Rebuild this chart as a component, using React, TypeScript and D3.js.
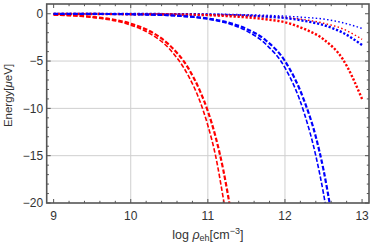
import React from 'react';
import * as d3 from 'd3';

// x grids (log rho_eh) and energies, in μeV
const xRedDashed = [9, 9.5, 10, 10.25, 10.5, 10.75, 10.9, 11, 11.1, 11.2, 11.3, 11.4];
const redDashedA = [-0.12, -0.38, -1.2, -2.1, -3.7, -6.6, -9.3, -11.8, -15, -19.5, -24.5, -31];
const redDashedB = [-0.1, -0.33, -1.05, -1.85, -3.3, -5.8, -8.2, -10.3, -13, -16.5, -21, -26];

const xBlueDashed = [9, 9.5, 10, 10.5, 11, 11.25, 11.5, 11.75, 12, 12.25, 12.4, 12.5, 12.6, 12.7];
const blueDashedA = [-0.01, -0.02, -0.06, -0.18, -0.57, -1.0, -1.8, -3.2, -5.7, -10.5, -15, -19, -24, -30];
const blueDashedB = [-0.01, -0.02, -0.05, -0.16, -0.5, -0.9, -1.6, -2.8, -5.0, -9.2, -13, -16.5, -21, -26];

const xDotted = [9, 9.5, 10, 10.5, 11, 11.25, 11.5, 11.75, 12, 12.25, 12.5, 12.75, 13];
const redDottedThick = [-0.02, -0.03, -0.05, -0.08, -0.15, -0.25, -0.38, -0.58, -0.9, -1.6, -2.7, -4.8, -9.0];
const blueDottedThick = [-0.01, -0.01, -0.02, -0.04, -0.08, -0.13, -0.2, -0.3, -0.45, -0.75, -1.2, -2.0, -3.3];
const redDottedThin = [-0.01, -0.01, -0.02, -0.04, -0.08, -0.12, -0.18, -0.27, -0.4, -0.62, -1.0, -1.6, -2.7];
const blueDottedThin = [0, -0.01, -0.01, -0.02, -0.04, -0.06, -0.1, -0.16, -0.25, -0.38, -0.56, -0.95, -1.55];

const xTicks = [9, 10, 11, 12, 13];
const yTicks = [0, -5, -10, -15, -20];

const frameColor = '#555';
const textColor = '#333';
const font = '"Liberation Sans", Arial, sans-serif';

class Chart extends React.Component {
  node: SVGSVGElement | null = null;
  width = 374;
  height = 247;
  margin = { top: 4, right: 5, bottom: 44, left: 46.7 };

  componentDidMount() {
    this.drawChart();
  }

  drawChart() {
    const { width, height, margin } = this;
    const svg = d3.select(this.node);
    svg.selectAll('*').remove();

    const x = d3.scaleLinear().domain([8.91, 13.09]).range([margin.left, width - margin.right]);
    const y = d3.scaleLinear().domain([-20, 1.03]).range([height - margin.bottom, margin.top]);
    const [x0, x1] = x.range();
    const [y0, y1] = y.range();

    svg.append('defs').append('clipPath').attr('id', 'plot-clip')
      .append('rect')
      .attr('x', x0).attr('y', y1)
      .attr('width', x1 - x0).attr('height', y0 - y1);

    // grid
    const grid = svg.append('g').attr('stroke', '#cfcfcf').attr('stroke-width', 1);
    grid.selectAll('line.gx').data([10, 11, 12]).enter().append('line')
      .attr('x1', d => x(d)).attr('x2', d => x(d)).attr('y1', y1).attr('y2', y0);
    grid.selectAll('line.gy').data([-5, -10, -15]).enter().append('line')
      .attr('y1', d => y(d)).attr('y2', d => y(d)).attr('x1', x0).attr('x2', x1);

    // curves
    const line = d3.line<[number, number]>()
      .x(d => x(d[0])).y(d => y(d[1]))
      .curve(d3.curveMonotoneX);

    const series = [
      { xs: xDotted, ys: blueDottedThin, color: '#0000ff', w: 1.4, dash: '1.5,2.3' },
      { xs: xDotted, ys: redDottedThin, color: '#ff0000', w: 1.4, dash: '1.5,2.3' },
      { xs: xDotted, ys: blueDottedThick, color: '#0000ff', w: 2.4, dash: '2.2,1.8' },
      { xs: xDotted, ys: redDottedThick, color: '#ff0000', w: 2.4, dash: '2.2,1.8' },
      { xs: xRedDashed, ys: redDashedA, color: '#ff0000', w: 1.6, dash: '4.5,2' },
      { xs: xRedDashed, ys: redDashedB, color: '#ff0000', w: 2.2, dash: '4.5,2' },
      { xs: xBlueDashed, ys: blueDashedA, color: '#0000ff', w: 1.6, dash: '4.5,2' },
      { xs: xBlueDashed, ys: blueDashedB, color: '#0000ff', w: 2.2, dash: '4.5,2' },
    ];

    const curves = svg.append('g').attr('clip-path', 'url(#plot-clip)');
    series.forEach(s => {
      curves.append('path')
        .datum(s.xs.map((v, i) => [v, s.ys[i]] as [number, number]))
        .attr('d', line)
        .attr('fill', 'none')
        .attr('stroke', s.color)
        .attr('stroke-width', s.w)
        .attr('stroke-dasharray', s.dash);
    });

    // ticks on all four sides, pointing in
    const xMinor = d3.range(9, 13.01, 0.2).filter(v => Math.abs(v - Math.round(v)) > 0.01);
    const yMinor = d3.range(-20, 1, 1).filter(v => v % 5 !== 0);
    const ticks = svg.append('g').attr('stroke', frameColor).attr('stroke-width', 1);
    const tick = (data: number[], len: number) => {
      data.forEach(v => {
        ticks.append('line').attr('x1', x(v)).attr('x2', x(v)).attr('y1', y0).attr('y2', y0 - len);
        ticks.append('line').attr('x1', x(v)).attr('x2', x(v)).attr('y1', y1).attr('y2', y1 + len);
      });
    };
    const ytick = (data: number[], len: number) => {
      data.forEach(v => {
        ticks.append('line').attr('y1', y(v)).attr('y2', y(v)).attr('x1', x0).attr('x2', x0 + len);
        ticks.append('line').attr('y1', y(v)).attr('y2', y(v)).attr('x1', x1).attr('x2', x1 - len);
      });
    };
    tick(xTicks, 4);
    tick(xMinor, 2.2);
    ytick(yTicks, 4);
    ytick(yMinor, 2.2);

    // frame
    svg.append('rect')
      .attr('x', x0).attr('y', y1)
      .attr('width', x1 - x0).attr('height', y0 - y1)
      .attr('fill', 'none')
      .attr('stroke', frameColor)
      .attr('stroke-width', 1.6);

    // tick labels
    svg.append('g').selectAll('text').data(xTicks).enter().append('text')
      .attr('x', d => x(d)).attr('y', y0 + 17)
      .attr('text-anchor', 'middle')
      .attr('font-family', font).attr('font-size', 12).attr('fill', textColor)
      .text(d => d3.format('d')(d));

    svg.append('g').selectAll('text').data(yTicks).enter().append('text')
      .attr('x', x0 - 3.5).attr('y', d => y(d) + 4.3)
      .attr('text-anchor', 'end')
      .attr('font-family', font).attr('font-size', 12).attr('fill', textColor)
      .text(d => (d < 0 ? '\u2212' + Math.abs(d) : String(d)));

    // axis titles
    const xt = svg.append('text')
      .attr('x', (x0 + x1) / 2).attr('y', 239)
      .attr('text-anchor', 'middle')
      .attr('font-family', font).attr('font-size', 12.5).attr('fill', textColor);
    xt.append('tspan').text('log ');
    xt.append('tspan').attr('font-style', 'italic').text('ρ');
    xt.append('tspan').attr('font-size', 9).attr('dy', 1.5).text('eh');
    xt.append('tspan').attr('dy', -1.5).text('[cm');
    xt.append('tspan').attr('font-size', 9).attr('dy', -5.5).text('\u22123');
    xt.append('tspan').attr('dy', 5.5).text(']');

    const yt = svg.append('text')
      .attr('transform', `translate(12, ${(y0 + y1) / 2 - 8}) rotate(-90)`)
      .attr('text-anchor', 'middle')
      .attr('font-family', font).attr('font-size', 11.5).attr('fill', textColor);
    yt.append('tspan').text('Energy[');
    yt.append('tspan').attr('font-style', 'italic').text('μ');
    yt.append('tspan').text('eV]');
  }

  render() {
    return (
      <svg
        ref={node => { this.node = node; }}
        width={this.width}
        height={this.height}
        style={{ position: 'absolute', left: 0, top: 0, background: '#fff' }}
      />
    );
  }
}

export default function App() {
  return <Chart />;
}
